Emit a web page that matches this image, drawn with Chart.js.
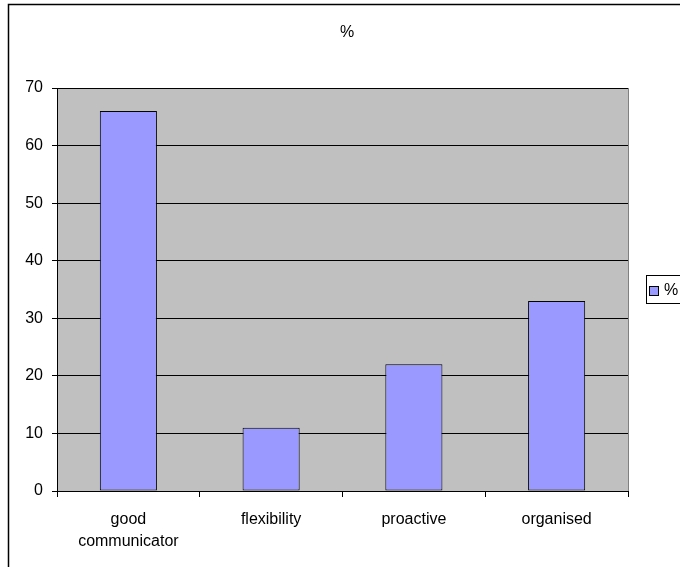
<!DOCTYPE html>
<html>
<head>
<meta charset="utf-8">
<script src="https://cdn.jsdelivr.net/npm/chart.js@4/dist/chart.umd.min.js"></script>
<style>
  html, body { margin: 0; padding: 0; background: #ffffff; }
  #wrap { width: 680px; height: 567px; }
</style>
</head>
<body>
<div id="wrap"><canvas id="c" width="680" height="567"></canvas></div>
<script>
// Share of responses per quality
const categories = [['good', 'communicator'], 'flexibility', 'proactive', 'organised'];
const seriesName = '%';
const values = [66, 11, 22, 33];
const yTicks = [0, 10, 20, 30, 40, 50, 60, 70];

const FONT = { family: '"Liberation Sans", Arial, sans-serif', size: 16, lineHeight: 1.35 };
const BAR_FILL = '#9999FF';

// Frame, plot background, title and boxed legend
const framePlugin = {
  id: 'frame',
  beforeDraw(chart) {
    const { ctx, chartArea: a } = chart;
    ctx.save();
    ctx.fillStyle = '#ffffff';
    ctx.fillRect(0, 0, chart.width, chart.height);
    ctx.fillStyle = '#C0C0C0';
    ctx.fillRect(a.left, a.top, a.right - a.left, a.bottom - a.top);
    ctx.restore();
  },
  afterDraw(chart) {
    const { ctx, chartArea: a } = chart;
    ctx.save();
    // outer chart border (left and top edges visible)
    ctx.strokeStyle = '#000000';
    ctx.lineWidth = 1.5;
    ctx.beginPath();
    ctx.moveTo(8.5, chart.height);
    ctx.lineTo(8.5, 4.5);
    ctx.lineTo(chart.width, 4.5);
    ctx.stroke();
    // right edge of the plot area
    ctx.strokeStyle = '#808080';
    ctx.lineWidth = 1;
    ctx.beginPath();
    ctx.moveTo(Math.round(a.right) + 0.5, a.top);
    ctx.lineTo(Math.round(a.right) + 0.5, a.bottom);
    ctx.stroke();
    // title
    ctx.fillStyle = '#000000';
    ctx.font = `${FONT.size}px ${FONT.family}`;
    ctx.textAlign = 'center';
    ctx.textBaseline = 'middle';
    ctx.fillText(chart.data.datasets[0].label, 347, 33);
    // legend box
    ctx.strokeStyle = '#000000';
    ctx.lineWidth = 1;
    ctx.strokeRect(646.5, 275.5, 40, 28);
    ctx.fillStyle = chart.data.datasets[0].backgroundColor;
    ctx.fillRect(650, 287, 8, 8);
    ctx.strokeRect(649.5, 286.5, 9, 9);
    ctx.fillStyle = '#000000';
    ctx.textAlign = 'left';
    ctx.fillText(chart.data.datasets[0].label, 664, 291);
    ctx.restore();
  }
};

new Chart(document.getElementById('c'), {
  type: 'bar',
  data: {
    labels: categories,
    datasets: [{
      label: seriesName,
      data: values,
      backgroundColor: BAR_FILL,
      borderColor: '#000000',
      borderWidth: 1,
      borderSkipped: false,
      categoryPercentage: 1.0,
      barPercentage: 0.4
    }]
  },
  options: {
    responsive: false,
    animation: false,
    devicePixelRatio: 1,
    layout: { padding: { left: 0, top: 88, right: 52, bottom: 0 } },
    plugins: {
      legend: { display: false },
      title: { display: false },
      tooltip: { enabled: false }
    },
    scales: {
      x: {
        offset: true,
        afterFit(scale) { scale.height = 76; },
        grid: {
          offset: true,
          drawOnChartArea: false,
          drawTicks: true,
          tickLength: 6,
          color: '#000000'
        },
        border: { display: true, color: '#000000', width: 1 },
        ticks: {
          color: '#000000',
          font: FONT,
          padding: 12,
          maxRotation: 0,
          autoSkip: false
        }
      },
      y: {
        min: 0,
        max: 70,
        afterFit(scale) { scale.width = 57; },
        afterBuildTicks(scale) { scale.ticks = yTicks.map(v => ({ value: v })); },
        grid: {
          color: '#000000',
          lineWidth: 1,
          drawTicks: true,
          tickLength: 5,
          tickColor: '#000000'
        },
        border: { display: true, color: '#000000', width: 1 },
        ticks: {
          color: '#000000',
          font: FONT,
          padding: 9,
          stepSize: 10
        }
      }
    }
  },
  plugins: [framePlugin]
});
</script>
</body>
</html>
